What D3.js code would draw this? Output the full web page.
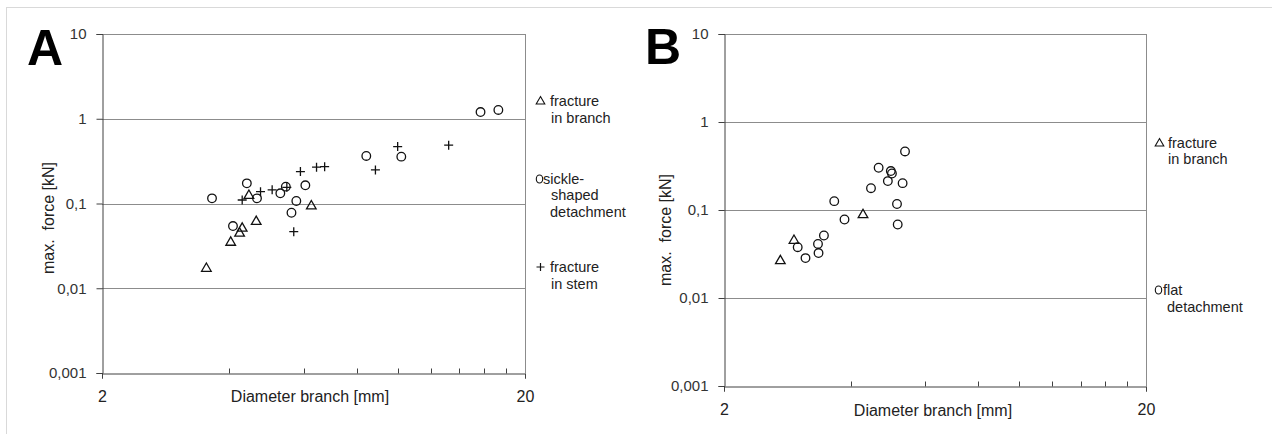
<!DOCTYPE html>
<html>
<head>
<meta charset="utf-8">
<script src="https://cdn.jsdelivr.net/npm/d3@7"></script>
<style>
  body { margin: 0; background: #fff; }
  text { font-family: "Liberation Sans", Arial, sans-serif; }
</style>
</head>
<body>
<div id="chart"></div>
<script>
// panel A: diameter [mm] and max. force [kN]
var aTriX = [3.53, 4.03, 4.23, 4.29, 4.63, 4.45, 6.25];
var aTriY = [0.0171, 0.0347, 0.0445, 0.0509, 0.061, 0.124, 0.0933];
var aCircX = [3.64, 4.08, 4.40, 4.65, 5.28, 5.44, 5.61, 5.76, 6.05, 8.43, 10.2, 15.7, 17.3];
var aCircY = [0.115, 0.0542, 0.173, 0.115, 0.132, 0.158, 0.0778, 0.107, 0.164, 0.364, 0.357, 1.2, 1.27];
var aPlusX = [4.29, 4.74, 5.05, 5.47, 5.89, 6.43, 6.72, 5.68, 8.86, 10.0, 13.2];
var aPlusY = [0.11, 0.138, 0.145, 0.155, 0.238, 0.268, 0.272, 0.0465, 0.249, 0.469, 0.488];

// panel B
var bTriX = [2.72, 2.93, 4.27];
var bTriY = [0.0264, 0.045, 0.0881];
var bCircX = [2.99, 3.12, 3.34, 3.35, 3.45, 3.65, 3.86, 4.46, 4.65, 4.89, 4.97, 5.00, 5.30, 5.14, 5.16, 5.37];
var bCircY = [0.0378, 0.0284, 0.0412, 0.0324, 0.0513, 0.126, 0.078, 0.177, 0.302, 0.213, 0.277, 0.26, 0.202, 0.117, 0.0684, 0.463];

var yTicks = [10, 1, 0.1, 0.01, 0.001];
var yTickLabels = ["10", "1", "0,1", "0,01", "0,001"];
var xMinor = [4, 6, 8, 10, 12, 14, 16, 18];
var xLabels = [2, 20];

var width = 1272, height = 434;

var svg = d3.select("#chart")
  .append("svg")
    .attr("width", width)
    .attr("height", height);

// light frame of the figure
svg.append("line").attr("x1", 6).attr("x2", width).attr("y1", 7.5).attr("y2", 7.5)
  .attr("stroke", "#d9d9d9");
svg.append("line").attr("x1", 6.5).attr("x2", 6.5).attr("y1", 7).attr("y2", height)
  .attr("stroke", "#d9d9d9");

function drawPanel(p) {
  var x = d3.scaleLog().domain([2, 20]).range([p.left, p.right]);
  var y = d3.scaleLog().domain([0.001, 10]).range([p.bottom, p.top]);

  var g = svg.append("g");

  // horizontal grid + top border
  g.selectAll(".grid")
    .data(yTicks.slice(0, 4))
    .enter()
    .append("line")
      .attr("x1", p.left).attr("x2", p.right)
      .attr("y1", function(d) { return Math.round(y(d)) + 0.5; })
      .attr("y2", function(d) { return Math.round(y(d)) + 0.5; })
      .attr("stroke", "#8c8c8c");
  g.append("line")
    .attr("x1", Math.round(p.right) + 0.5).attr("x2", Math.round(p.right) + 0.5)
    .attr("y1", p.top).attr("y2", p.bottom)
    .attr("stroke", "#8c8c8c");

  // y axis
  var yAxis = g.append("g")
    .attr("transform", "translate(" + (Math.round(p.left) + 0.5) + ",0)")
    .call(d3.axisLeft(y).tickValues(yTicks).tickSize(6).tickPadding(10)
      .tickFormat(function(d, i) { return yTickLabels[i]; }));
  yAxis.select(".domain").attr("stroke", "#404040");
  yAxis.selectAll(".tick line").attr("stroke", "#404040");
  yAxis.selectAll(".tick text")
    .attr("fill", "#333")
    .style("font-size", "15px")
    .style("font-family", "Liberation Sans, Arial, sans-serif");

  // x axis: inner minor ticks, outer ticks at the ends
  var xAxis = g.append("g")
    .attr("transform", "translate(0," + (Math.round(p.bottom) + 0.5) + ")")
    .call(d3.axisBottom(x).tickValues(xLabels).tickSize(5).tickPadding(12)
      .tickFormat(d3.format("d")));
  xAxis.select(".domain").attr("stroke", "#404040");
  xAxis.selectAll(".tick line").attr("stroke", "#404040");
  xAxis.selectAll(".tick text")
    .attr("fill", "#222")
    .style("font-size", "16px")
    .style("font-family", "Liberation Sans, Arial, sans-serif");
  xAxis.selectAll(".minor")
    .data(xMinor)
    .enter()
    .append("line")
      .attr("x1", function(d) { return Math.round(x(d)) + 0.5; })
      .attr("x2", function(d) { return Math.round(x(d)) + 0.5; })
      .attr("y1", 0).attr("y2", -5)
      .attr("stroke", "#404040");

  // axis titles
  g.append("text")
    .attr("x", p.xTitleX)
    .attr("y", p.xTitleY)
    .attr("text-anchor", "middle")
    .attr("fill", "#222")
    .style("font-size", "16px")
    .text("Diameter branch [mm]");

  g.append("text")
    .attr("transform", "translate(" + p.yTitleX + "," + p.yTitleY + ")rotate(-90)")
    .attr("text-anchor", "middle")
    .attr("fill", "#222")
    .style("font-size", "16px")
    .style("white-space", "pre")
    .text("max.  force [kN]");

  // panel letter
  g.append("text")
    .attr("x", p.letterX)
    .attr("y", p.letterY)
    .attr("font-weight", 700)
    .attr("fill", "#000")
    .style("font-size", "50px")
    .text(p.letter);

  var tri = d3.symbol().type(d3.symbolTriangle).size(40);

  g.selectAll(".tri")
    .data(d3.range(p.triX.length))
    .enter()
    .append("path")
      .attr("d", tri)
      .attr("transform", function(i) { return "translate(" + x(p.triX[i]) + "," + y(p.triY[i]) + ")"; })
      .attr("fill", "none")
      .attr("stroke", "#111")
      .attr("stroke-width", 1.3);

  g.selectAll(".circ")
    .data(d3.range(p.circX.length))
    .enter()
    .append("circle")
      .attr("cx", function(i) { return x(p.circX[i]); })
      .attr("cy", function(i) { return y(p.circY[i]); })
      .attr("r", 4.3)
      .attr("fill", "none")
      .attr("stroke", "#111")
      .attr("stroke-width", 1.3);

  if (p.plusX) {
    g.selectAll(".plus")
      .data(d3.range(p.plusX.length))
      .enter()
      .append("path")
        .attr("d", "M-4.5,0H4.5M0,-4.5V4.5")
        .attr("transform", function(i) { return "translate(" + x(p.plusX[i]) + "," + y(p.plusY[i]) + ")"; })
        .attr("fill", "none")
        .attr("stroke", "#111")
        .attr("stroke-width", 1.3);
  }

  // legend
  var leg = g.append("g");
  p.legend.forEach(function(item) {
    var sx = item.x + 4.5;
    var sy = item.y - 5;
    if (item.mark === "tri") {
      leg.append("path").attr("d", d3.symbol().type(d3.symbolTriangle).size(32))
        .attr("transform", "translate(" + sx + "," + (sy + 0.5) + ")")
        .attr("fill", "none").attr("stroke", "#111").attr("stroke-width", 1.1);
    } else if (item.mark === "circ") {
      leg.append("ellipse").attr("cx", item.x + 3.5).attr("cy", sy).attr("rx", 3.2).attr("ry", 4)
        .attr("fill", "none").attr("stroke", "#111").attr("stroke-width", 1.1);
    } else if (item.mark === "plus") {
      leg.append("path").attr("d", "M-4,0H4M0,-4V4")
        .attr("transform", "translate(" + sx + "," + sy + ")")
        .attr("fill", "none").attr("stroke", "#111").attr("stroke-width", 1.2);
    }
    item.lines.forEach(function(l) {
      leg.append("text")
        .attr("x", l[0]).attr("y", l[1])
        .attr("fill", "#222")
        .style("font-size", "14.5px")
        .text(l[2]);
    });
  });
}

drawPanel({
  letter: "A", letterX: 27, letterY: 65,
  left: 102, right: 525, top: 34, bottom: 373,
  xTitleX: 310, xTitleY: 402, yTitleX: 54, yTitleY: 218,
  triX: aTriX, triY: aTriY, circX: aCircX, circY: aCircY, plusX: aPlusX, plusY: aPlusY,
  legend: [
    {mark: "tri", x: 536, y: 106, lines: [[550, 106, "fracture"], [551, 123, "in branch"]]},
    {mark: "circ", x: 536, y: 184, lines: [[543, 184, "sickle-"], [551, 200, "shaped"], [550, 217, "detachment"]]},
    {mark: "plus", x: 536, y: 272, lines: [[550, 272, "fracture"], [551, 289, "in stem"]]}
  ]
});

drawPanel({
  letter: "B", letterX: 645, letterY: 64,
  left: 724, right: 1146, top: 34, bottom: 386,
  xTitleX: 933, xTitleY: 416, yTitleX: 671, yTitleY: 230,
  triX: bTriX, triY: bTriY, circX: bCircX, circY: bCircY,
  legend: [
    {mark: "tri", x: 1155, y: 148, lines: [[1168, 148, "fracture"], [1168, 164, "in branch"]]},
    {mark: "circ", x: 1155, y: 295, lines: [[1163, 295, "flat"], [1167, 312, "detachment"]]}
  ]
});
</script>
</body>
</html>
